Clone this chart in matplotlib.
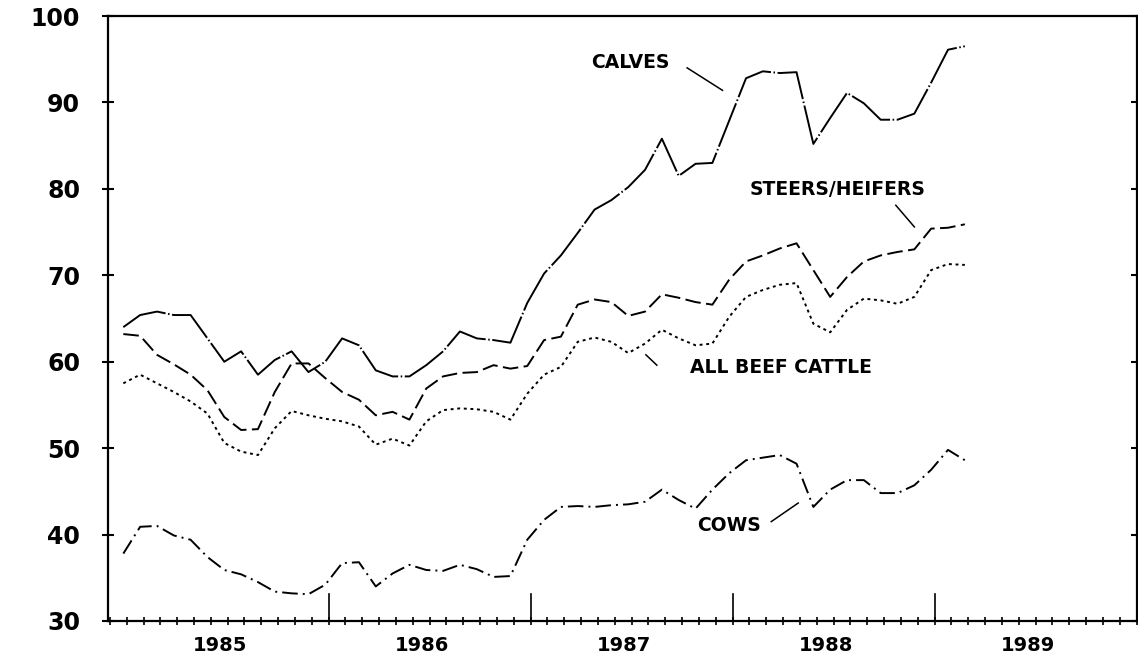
import numpy as np
import matplotlib
matplotlib.use("Agg")
import matplotlib.pyplot as plt
from matplotlib.transforms import blended_transform_factory

# ---- data (monthly, starting Jan 1985) ----
months = np.arange(51)
calves = [64.0, 65.4, 65.8, 65.4, 65.4, 62.7, 60.0, 61.2, 58.5, 60.2,
          61.2, 58.8, 60.0, 62.7, 61.9, 59.0, 58.3, 58.3, 59.6, 61.2,
          63.5, 62.7, 62.5, 62.2, 66.8, 70.2, 72.3, 74.9, 77.6, 78.7,
          80.2, 82.2, 85.8, 81.5, 82.9, 83.0, 87.9, 92.8, 93.6, 93.4,
          93.5, 85.2, 88.2, 91.1, 89.9, 88.0, 88.0, 88.7, 92.3, 96.1,
          96.5]
steers = [63.2, 63.0, 60.8, 59.7, 58.5, 56.7, 53.6, 52.1, 52.2, 56.5,
          59.8, 59.8, 58.1, 56.5, 55.6, 53.8, 54.2, 53.3, 56.9, 58.3,
          58.7, 58.8, 59.6, 59.2, 59.5, 62.5, 62.9, 66.6, 67.2, 66.9,
          65.3, 65.8, 67.8, 67.4, 66.9, 66.6, 69.5, 71.6, 72.3, 73.1,
          73.7, 70.6, 67.5, 69.8, 71.6, 72.3, 72.7, 73.0, 75.4, 75.5,
          75.9]
all_beef = [57.5, 58.5, 57.5, 56.5, 55.4, 54.0, 50.6, 49.6, 49.2, 52.3,
            54.3, 53.8, 53.4, 53.1, 52.5, 50.4, 51.1, 50.3, 53.1, 54.4,
            54.6, 54.5, 54.2, 53.3, 56.3, 58.5, 59.4, 62.3, 62.8, 62.3,
            61.0, 62.1, 63.7, 62.7, 61.9, 62.1, 65.2, 67.5, 68.3, 68.9,
            69.1, 64.4, 63.4, 66.0, 67.3, 67.1, 66.7, 67.5, 70.6, 71.3,
            71.2]
cows = [37.8, 40.9, 41.0, 39.9, 39.4, 37.4, 35.9, 35.4, 34.5, 33.4,
        33.2, 33.1, 34.2, 36.7, 36.8, 34.0, 35.5, 36.5, 35.9, 35.8,
        36.5, 36.0, 35.1, 35.2, 39.4, 41.7, 43.2, 43.3, 43.2, 43.4,
        43.5, 43.8, 45.2, 44.0, 43.0, 45.2, 47.1, 48.6, 48.9, 49.2,
        48.2, 43.2, 45.2, 46.3, 46.3, 44.8, 44.8, 45.7, 47.5, 49.8,
        48.6]

year_labels = ["1985", "1986", "1987", "1988", "1989"]
ytick_vals = [30, 40, 50, 60, 70, 80, 90, 100]

plt.rcParams['font.family'] = ['DejaVu Sans']

fig = plt.figure(figsize=(11.38, 6.55), dpi=100)
ax = fig.add_axes([108/1138, 34/655, (1136.5-108)/1138, (621-16)/655])

lw = 1.4
ax.plot(months, calves, color='black', lw=lw, linestyle=(0, (24, 1.3, 0.8, 1.3)))
ax.plot(months, steers, color='black', lw=lw, linestyle=(0, (8, 2.8)))
ax.plot(months, all_beef, color='black', lw=lw, linestyle=(0, (1.5, 1.9)))
ax.plot(months, cows, color='black', lw=lw, linestyle=(0, (8, 2.6, 1, 2.6)))

ax.set_xlim(-0.91, 60.2)
ax.set_ylim(30, 100)

# y axis
ax.set_yticks(ytick_vals)
ax.set_yticklabels([str(v) for v in ytick_vals], fontsize=17, fontweight='bold')
ax.tick_params(axis='y', which='major', direction='inout', length=9, width=1.5,
               pad=15.5, left=True, right=True, labelright=False)

# x axis: month crosses + year labels
ax.set_xticks(np.arange(-0.8, 60.3, 1.0), minor=True)
ax.set_xticks([5.75 + 12 * i for i in range(len(year_labels))])
ax.set_xticklabels(year_labels, fontsize=14, fontweight='bold')
ax.tick_params(axis='x', which='major', length=0, pad=10.5)
ax.tick_params(axis='x', which='minor', direction='inout', length=6, width=1.2)

# tall year-boundary ticks
trans = blended_transform_factory(ax.transData, ax.transAxes)
for b in [12.2, 24.2, 36.2, 48.2]:
    ax.plot([b, b], [0, 27/605], color='black', lw=1.2, transform=trans, clip_on=False)

for s in ax.spines.values():
    s.set_linewidth(1.6)

# labels with leader lines
tkw = dict(fontsize=13.5, fontweight='bold', ha='center', va='center')
ax.text(30.1, 94.6, "CALVES", **tkw)
ax.plot([33.5, 35.6], [94.0, 91.4], color='black', lw=1.1)
ax.text(42.45, 79.9, "STEERS/HEIFERS", **tkw)
ax.plot([45.9, 47.0], [78.1, 75.6], color='black', lw=1.1)
ax.text(39.1, 59.3, "ALL BEEF CATTLE", **tkw)
ax.plot([31.05, 31.7], [60.8, 59.6], color='black', lw=1.1)
ax.text(36.0, 41.1, "COWS", **tkw)
ax.plot([38.5, 40.1], [41.5, 43.65], color='black', lw=1.1)

fig.savefig("out.png", dpi=100)
